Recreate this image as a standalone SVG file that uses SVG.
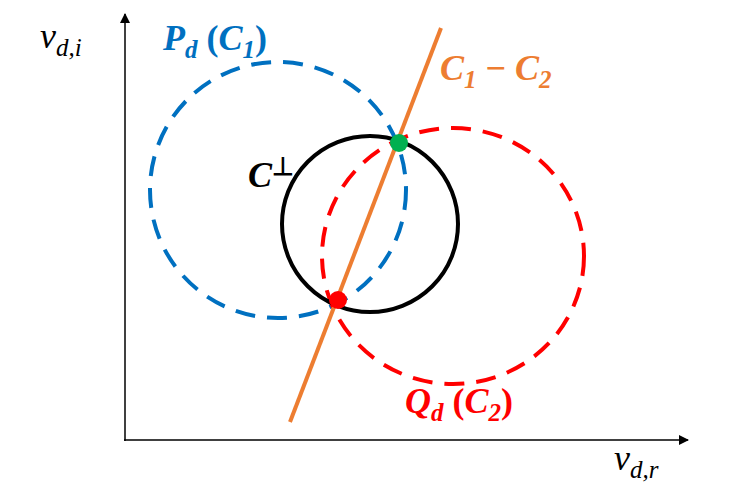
<svg xmlns="http://www.w3.org/2000/svg" width="730" height="490" viewBox="0 0 730 490">
<defs><marker id="ar" markerWidth="10" markerHeight="10" refX="9" refY="5" orient="auto" markerUnits="userSpaceOnUse"><path d="M0,0 L10,5 L0,10 z" fill="#000"/></marker></defs>
<style>
text{font-family:"Liberation Serif",serif;font-style:italic;font-size:36px}
.b{font-weight:bold}
.s{font-size:25px}
</style>
<rect width="730" height="490" fill="#fff"/>
<g id="axes" stroke="#000" stroke-width="1.5">
<line x1="125" y1="441" x2="125" y2="14" marker-end="url(#ar)"/>
<line x1="124" y1="440" x2="688" y2="440" marker-end="url(#ar)"/>
</g>
<g id="Pd"><ellipse cx="278" cy="190" rx="128" ry="128" fill="none" stroke="#0070C0" stroke-width="4" stroke-dasharray="20,12"/></g>
<g id="Qd"><ellipse cx="453" cy="256" rx="131" ry="128" fill="none" stroke="#FF0000" stroke-width="4" stroke-dasharray="20,12"/></g>
<g id="Cperp"><circle cx="370" cy="224" r="88" fill="none" stroke="#000" stroke-width="4"/></g>
<g id="connectors"><line x1="290" y1="422" x2="441" y2="28" stroke="#ED7D31" stroke-width="4"/></g>
<g id="pts"><circle cx="399" cy="143" r="9" fill="#00B050"/><circle cx="338" cy="300" r="9" fill="#FF0000"/></g>
<g id="labels">
<text x="40" y="48">v<tspan class="s" dy="8">d,i</tspan></text>
<text x="614" y="470">v<tspan class="s" dy="8">d,r</tspan></text>
<text x="163" y="50" class="b" fill="#0070C0">P<tspan class="s" dy="8">d</tspan><tspan dy="-8" font-style="normal"> (</tspan>C<tspan class="s" dy="8">1</tspan><tspan dy="-8" font-style="normal">)</tspan></text>
<text x="440" y="80" class="b" fill="#ED7D31">C<tspan class="s" dy="8">1</tspan><tspan dy="-8" font-style="normal"> − </tspan>C<tspan class="s" dy="8">2</tspan></text>
<text x="248" y="187" class="b" fill="#000">C<tspan class="s" dy="-12" font-style="normal">⊥</tspan></text>
<text x="405" y="413" class="b" fill="#FF0000">Q<tspan class="s" dy="8">d</tspan><tspan dy="-8" font-style="normal"> (</tspan>C<tspan class="s" dy="8">2</tspan><tspan dy="-8" font-style="normal">)</tspan></text>
</g>
</svg>
